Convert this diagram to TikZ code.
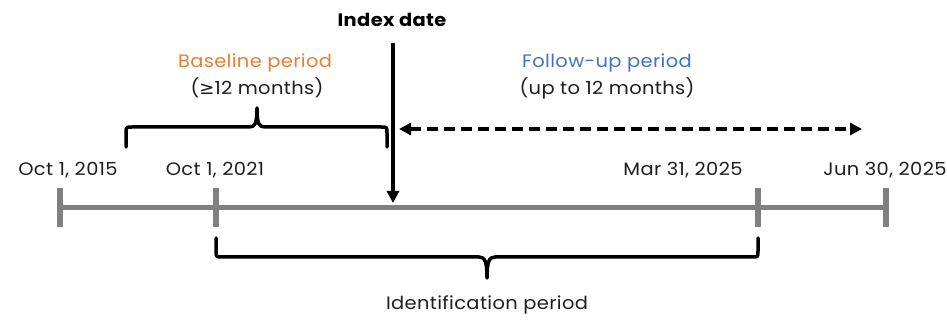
\documentclass[tikz,border=0pt]{standalone}
\usepackage{fontspec}
\setmainfont{Poppins}[FakeStretch=1.08, LetterSpace=2]
\newfontfamily\symfont{DejaVu Sans}
\usetikzlibrary{arrows.meta}
\definecolor{axisgrey}{RGB}{128,128,128}
\definecolor{baseorange}{RGB}{237,125,49}
\definecolor{followblue}{RGB}{68,114,196}
\definecolor{inkdark}{RGB}{30,30,30}
\tikzset{
  axis/.style={draw=axisgrey, line width=5pt},
  tick/.style={draw=axisgrey, line width=6pt},
  curlybrace/.style={draw=black, line width=3.5pt, line cap=round, line join=round},
  datelabel/.style={font=\fontsize{18}{21}\selectfont, text=inkdark, inner sep=0pt},
  caption/.style={font=\fontsize{18}{21}\selectfont, inner sep=0pt, align=center},
}
\begin{document}
\begin{tikzpicture}[x=1pt, y=-1pt]
\useasboundingbox (0,0) rectangle (947,320);

% timeline points
\coordinate (t0) at (60,208);
\coordinate (t1) at (216,208);
\coordinate (t2) at (758,208);
\coordinate (t3) at (886,208);

% main axis and ticks
\draw[axis] (t0) -- (t3);
\foreach \t in {t0,t1,t2,t3}
  \draw[tick] ([yshift=-19pt]\t) -- ([yshift=20pt]\t);

% date labels
\node[datelabel] (d0) at (68,170) {Oct 1, 2015};
\node[datelabel] (d1) at (215,170) {Oct 1, 2021};
\node[datelabel] (d2) at (683,170) {Mar 31, 2025};
\node[datelabel] (d3) at (885,170) {Jun 30, 2025};

% index date
\node[font=\bfseries\fontsize{18}{21}\selectfont, inner sep=0pt] (idx) at (392,20) {Index date};
\coordinate (idxtop) at (393,43);
\coordinate (idxtip) at (393,203);
\draw[line width=4pt, -{Triangle[length=12pt, width=12pt]}] (idxtop) -- (idxtip);

% baseline period
\node[caption] (base) at (255,63) {\textcolor{baseorange}{Baseline period}};
\node[caption, text=inkdark] (basesub) at (257,88) {({\symfont ≥}12 months)};
\draw[curlybrace] (126,147) -- (126,133) .. controls (126,127) .. (132,127)
  -- (249,127) .. controls (255,127) and (257,124) .. (257,108)
  .. controls (257,124) and (259,127) .. (265,127)
  -- (381,127) .. controls (387,127) .. (387,133) -- (387,147);

% follow-up period
\node[caption] (fu) at (607,63) {\textcolor{followblue}{Follow-up period}};
\node[caption, text=inkdark] (fusub) at (607,88) {(up to 12 months)};
\coordinate (fuL) at (399,129);
\coordinate (fuR) at (862,129);
\draw[line width=3.5pt, dash pattern=on 11pt off 6pt,
  {Triangle[length=12pt, width=12pt]}-{Triangle[length=12pt, width=12pt]}] (fuL) -- (fuR);

% identification period
\draw[curlybrace] (216,238) -- (216,251) .. controls (216,257) .. (222,257)
  -- (479,257) .. controls (485,257) and (487,262) .. (487,278)
  .. controls (487,262) and (489,257) .. (495,257)
  -- (752,257) .. controls (758,257) .. (758,251) -- (758,238);
\node[caption, text=inkdark] (ident) at (487,305) {Identification period};
\end{tikzpicture}
\end{document}
